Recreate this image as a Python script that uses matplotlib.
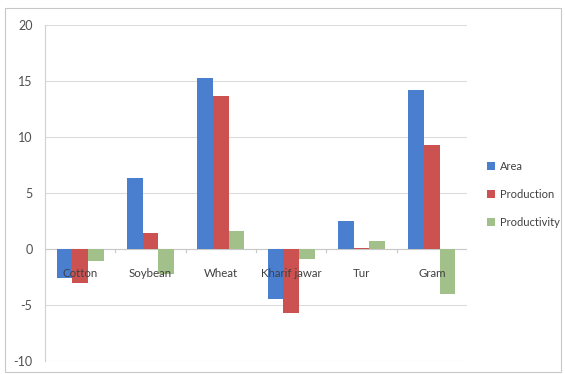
import matplotlib
matplotlib.use("Agg")
import matplotlib.pyplot as plt
import numpy as np
from matplotlib.patches import Rectangle

plt.rcParams['font.family'] = ['Lato', 'DejaVu Sans']

crops = ["Cotton", "Soybean", "Wheat", "Kharif jawar", "Tur", "Gram"]
area = [-2.6, 6.3, 15.3, -4.5, 2.5, 14.2]
production = [-3.0, 1.4, 13.7, -5.7, 0.1, 9.3]
productivity = [-1.1, -2.2, 1.6, -0.9, 0.7, -4.0]
series_names = ["Area", "Production", "Productivity"]
colors = ["#4a7fd0", "#cc5252", "#a2c08a"]
yticks = [-10, -5, 0, 5, 10, 15, 20]

W, H = 565, 374
fig = plt.figure(figsize=(W / 100, H / 100), dpi=100)
fig.patch.set_facecolor("white")

# outer chart border
fig.add_artist(Rectangle((5 / W, 2 / H), 556 / W, 364 / H, transform=fig.transFigure,
                         fill=False, edgecolor="#c8c8c8", linewidth=0.8))

ax = fig.add_axes([45 / W, (H - 361) / H, (467 - 45) / W, (361 - 25) / H])

x = np.arange(len(crops))
bw = 0.222
for k, (vals, name, c) in enumerate(zip([area, production, productivity], series_names, colors)):
    ax.bar(x + (k - 1) * bw, vals, width=bw, color=c, label=name, zorder=3)

ax.set_xlim(-0.5, len(crops) - 0.5)
ax.set_ylim(-10, 20)
ax.set_yticks(yticks)
ax.set_yticklabels([str(t) for t in yticks], fontsize=9, color="#505050")
ax.tick_params(axis="y", length=0, pad=9)
ax.set_xticks([])
ax.grid(axis="y", color="#dcdcdc", linewidth=0.8, zorder=0)
for s in ["top", "right", "bottom"]:
    ax.spines[s].set_visible(False)
ax.spines["left"].set_color("#d0d0d0")
ax.spines["left"].set_linewidth(0.8)

# category axis drawn along zero
ax.axhline(0, color="#c8c8c8", linewidth=0.8, zorder=2)
for b in np.arange(-0.5, len(crops), 1.0):
    ax.plot([b, b], [0, -0.3], color="#c8c8c8", linewidth=0.8, zorder=2)
for i, name in enumerate(crops):
    ax.annotate(name, (i, 0), xytext=(0, -17.5), textcoords="offset points",
                ha="center", va="center", fontsize=8.3, color="#404040", zorder=4)

ax.legend(loc="center left", bbox_to_anchor=(1.047, 0.496), frameon=False,
          borderaxespad=0, borderpad=0,
          fontsize=8, handlelength=0.75, handleheight=0.75, handletextpad=0.4,
          labelspacing=1.5, labelcolor="#404040")

fig.savefig("out.png", dpi=100)
